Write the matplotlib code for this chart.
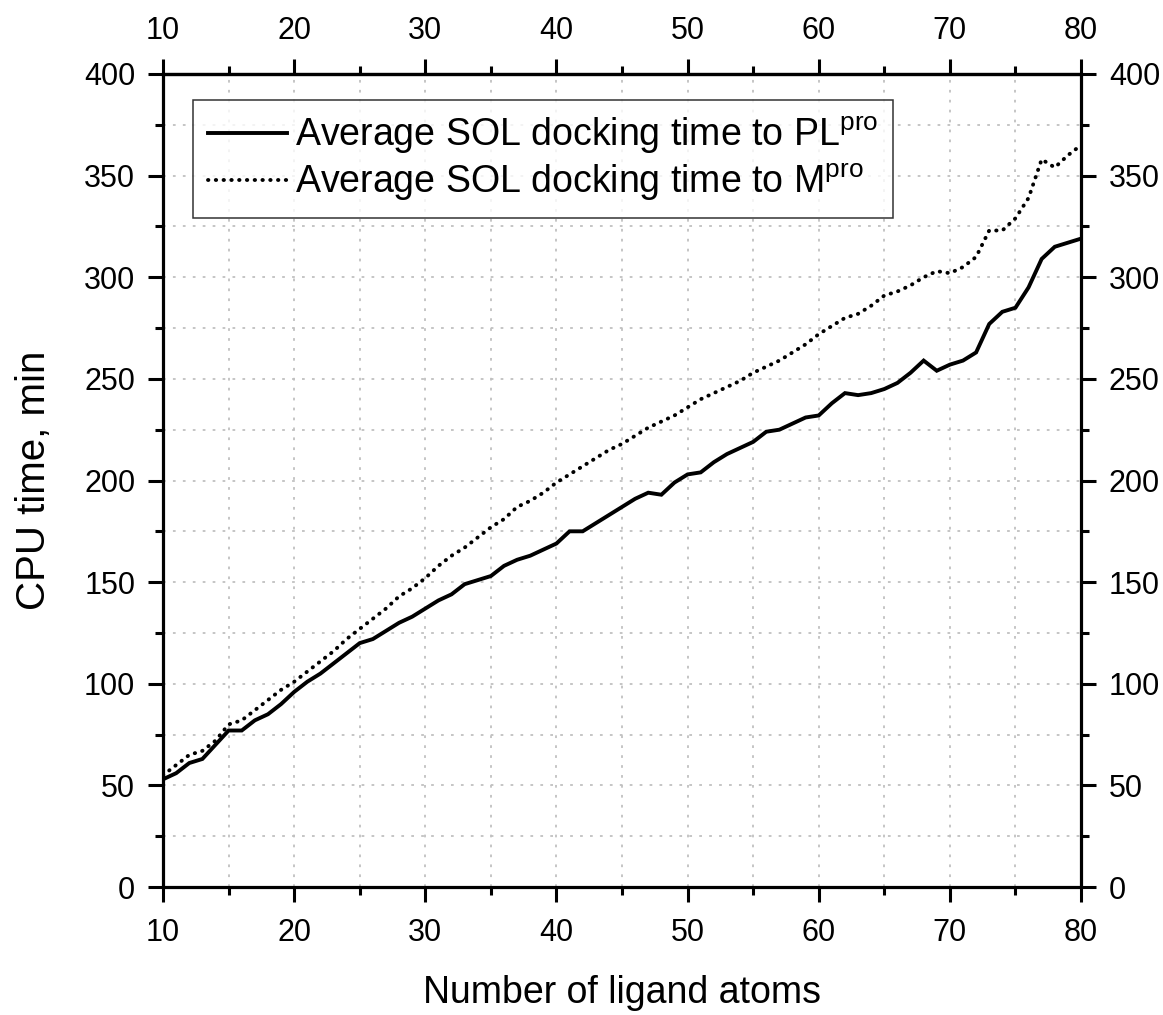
import matplotlib.pyplot as plt
from matplotlib.ticker import MultipleLocator, FixedLocator

plt.rcParams["font.family"] = ["Liberation Sans", "DejaVu Sans"]

# number of ligand atoms
atoms = list(range(10, 81))

# average SOL docking time, min
pl_time = [53, 56, 61, 63, 70, 77, 77, 82, 85, 90,
           96, 101, 105, 110, 115, 120, 122, 126, 130, 133,
           137, 141, 144, 149, 151, 153, 158, 161, 163, 166,
           169, 175, 175, 179, 183, 187, 191, 194, 193, 199,
           203, 204, 209, 213, 216, 219, 224, 225, 228, 231,
           232, 238, 243, 242, 243, 245, 248, 253, 259, 254,
           257, 259, 263, 277, 283, 285, 295, 309, 315, 317,
           319]
m_time = [55, 60, 65, 67, 72, 80, 82, 87, 92, 97,
          101, 106, 111, 116, 122, 127, 132, 137, 143, 147,
          152, 158, 163, 167, 172, 177, 181, 187, 190, 194,
          199, 203, 207, 211, 215, 218, 222, 226, 229, 232,
          236, 240, 243, 246, 249, 253, 256, 259, 263, 267,
          272, 276, 280, 282, 286, 291, 293, 296, 300, 303,
          302, 305, 310, 323, 323, 329, 339, 358, 354, 360,
          365]

x_major = [10, 20, 30, 40, 50, 60, 70, 80]
x_minor = [15, 25, 35, 45, 55, 65, 75]

fig = plt.figure(figsize=(11.63, 10.15), dpi=100)
ax = fig.add_axes([0.1402, 0.1261, 0.7893, 0.801])

ax.plot(atoms, pl_time, color="black", lw=2.8, solid_joinstyle="miter",
        label="Average SOL docking time to PL$^{\\mathregular{pro}}$")
ax.plot(atoms, m_time, color="black", lw=2.8, linestyle=(0, (0.1, 1.9)),
        dash_capstyle="round",
        label="Average SOL docking time to M$^{\\mathregular{pro}}$")

ax.set_xlim(10, 80)
ax.set_ylim(0, 400)
ax.xaxis.set_major_locator(FixedLocator(x_major))
ax.xaxis.set_minor_locator(FixedLocator(x_minor))
ax.yaxis.set_major_locator(MultipleLocator(50))
ax.yaxis.set_minor_locator(MultipleLocator(25))

ax.grid(True, which="both", color="#c0c0c0", linestyle=(0, (1.5, 4)), lw=1.3)
ax.set_axisbelow(True)

for s in ax.spines.values():
    s.set_linewidth(2.3)

ax.tick_params(which="both", direction="out", width=2.2, labelsize=22,
               top=False, right=True, labelright=True)
ax.tick_params(axis="x", pad=11)
ax.tick_params(axis="y", pad=9)
ax.tick_params(which="major", length=11)
ax.tick_params(which="minor", length=6)

# top axis with the same scale
top = ax.secondary_xaxis("top")
top.xaxis.set_major_locator(FixedLocator(x_major))
top.xaxis.set_minor_locator(FixedLocator(x_minor))
top.spines["top"].set_linewidth(2.3)
top.tick_params(which="both", direction="out", width=2.2, labelsize=22, pad=9)
top.tick_params(which="major", length=11)
top.tick_params(which="minor", length=6)

ax.set_xlabel("Number of ligand atoms", fontsize=27, labelpad=20)
ax.set_ylabel("CPU time, min", fontsize=29, labelpad=22)

leg = ax.legend(loc="upper left", bbox_to_anchor=(0.033, 0.968), fontsize=27,
                frameon=True, fancybox=False, handlelength=2.1,
                handletextpad=0.2, borderpad=0.4, labelspacing=0.15,
                borderaxespad=0)
leg.get_frame().set_edgecolor("black")
leg.get_frame().set_linewidth(1.1)

fig.savefig("out.png", dpi=100)
